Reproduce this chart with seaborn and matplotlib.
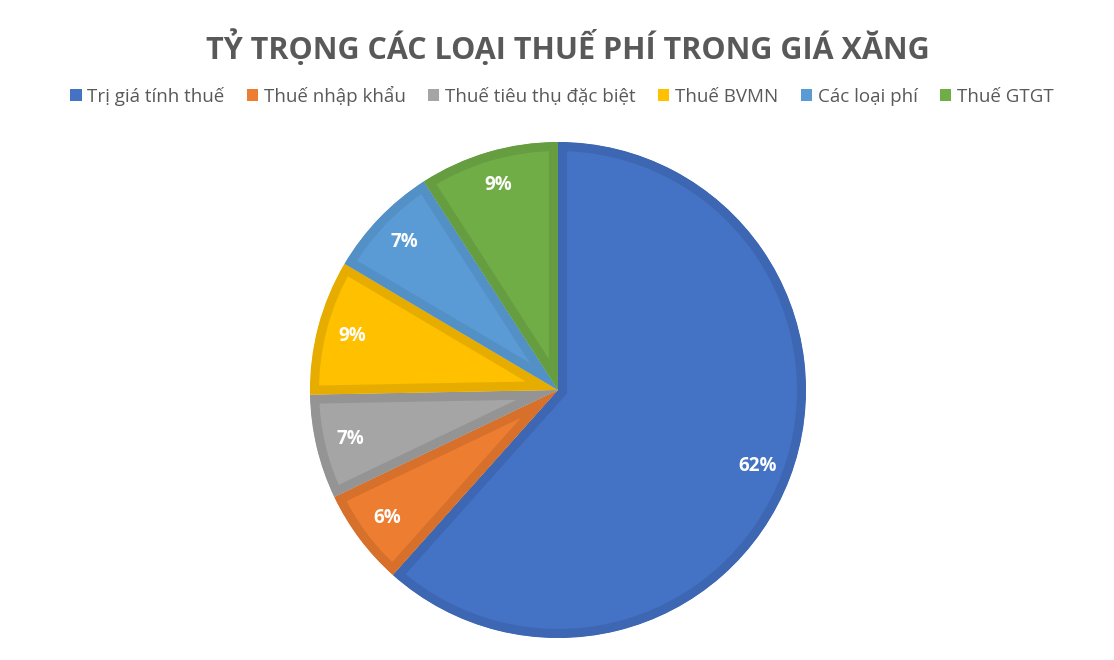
import matplotlib
matplotlib.use("Agg")
import numpy as np
import matplotlib.pyplot as plt
import seaborn as sns
from matplotlib.patches import Patch

# share of each component in the petrol price (%)
categories = ["Trị giá tính thuế", "Thuế nhập khẩu", "Thuế tiêu thụ đặc biệt",
              "Thuế BVMN", "Các loại phí", "Thuế GTGT"]
shares = [61.6, 6.3, 6.8, 8.8, 7.4, 9.1]
labels_pct = ["62%", "6%", "7%", "9%", "7%", "9%"]

fill_colors = ["#4472C4", "#ED7D31", "#A5A5A5", "#FFC000", "#5B9BD5", "#70AD47"]
edge_colors = ["#3E67B3", "#D6702B", "#949494", "#E6AD00", "#5290C6", "#659D40"]

sns.set_theme(style="white")
plt.rcParams['font.family'] = ['Open Sans', 'DejaVu Sans']

fig = plt.figure(figsize=(11.14, 6.6), dpi=100)

# pie in its own axes, centred at (558, 390), radius ~248 px
R = 248
cx, cy = 558, 390
pax = fig.add_axes([(cx - R) / 1114, (660 - cy - R) / 660, 2 * R / 1114, 2 * R / 660])
wedges, _ = pax.pie(shares, colors=fill_colors, startangle=90, counterclock=False,
                    radius=1.0, wedgeprops=dict(linewidth=13))
# darker border drawn only on the inside of each slice
for w, ec in zip(wedges, edge_colors):
    w.set_edgecolor(ec)
    w.set_joinstyle("miter")
    w.set_clip_on(True)
    w.set_clip_path(w)
pax.set_aspect("equal")
pax.set_xlim(-1, 1)
pax.set_ylim(-1, 1)
pax.axis("off")

# percentage labels
cum = np.cumsum([0] + shares[:-1])
for start, s, lab in zip(cum, shares, labels_pct):
    mid = 90 - (start + s / 2) * 3.6
    r = 0.86
    pax.text(r * np.cos(np.radians(mid)), r * np.sin(np.radians(mid)), lab,
             ha="center", va="center", color="white", fontsize=13.5, fontweight="bold")

fig.text(568 / 1114, 1 - 48 / 660, "TỶ TRỌNG CÁC LOẠI THUẾ PHÍ TRONG GIÁ XĂNG",
         ha="center", va="center", fontsize=22, fontweight="bold", color="#595959")

handles = [Patch(facecolor=c, edgecolor="none") for c in fill_colors]
fig.legend(handles, categories, loc="center", bbox_to_anchor=(562 / 1114, 1 - 96 / 660),
           ncol=6, frameon=False, fontsize=13.5, labelcolor="#595959",
           handlelength=0.6, handleheight=0.6, handletextpad=0.3, columnspacing=1.2)

fig.savefig("out.png", dpi=100)
